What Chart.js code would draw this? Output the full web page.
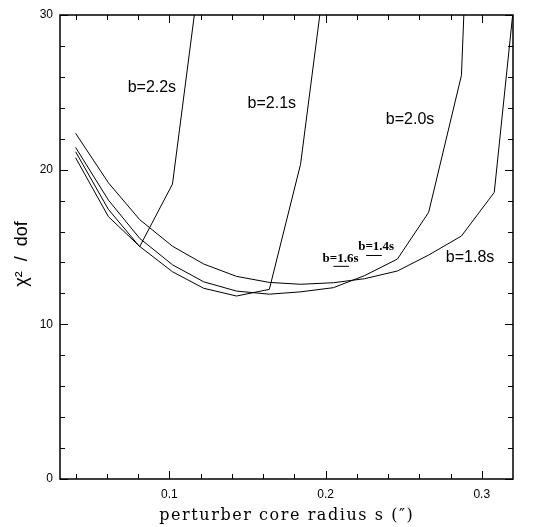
<!DOCTYPE html>
<html>
<head>
<meta charset="utf-8">
<script src="https://cdn.jsdelivr.net/npm/chart.js@4.4.0/dist/chart.umd.min.js"></script>
<style>
  html, body { margin: 0; padding: 0; background: #fff; }
  #chart { display: block; }
</style>
</head>
<body>
<canvas id="chart" width="535" height="527"></canvas>
<script>
// core radius s (") at which the fits were done
var sVals = [0.040, 0.061, 0.081, 0.102, 0.122, 0.143, 0.164, 0.184, 0.205, 0.225, 0.246, 0.266, 0.287, 0.308, 0.328];

// chi^2 / dof for each impact parameter b (points above 30 run off the top)
var chi18 = [22.35, 19.15, 16.77, 15.05, 13.9, 13.1, 12.71, 12.59, 12.69, 12.95, 13.45, 14.48, 15.71, 18.53, 38.0];
var chi20 = [21.44, 18.03, 15.56, 13.85, 12.75, 12.15, 11.95, 12.1, 12.37, 13.15, 14.22, 17.24, 26.1, 80.0];
var chi21 = [20.77, 16.96, 15.04, 13.4, 12.33, 11.83, 12.26, 20.35, 36.8];
var chi22 = [21.16, 17.43, 15.02, 19.07, 34.7];

// the two short marks for b=1.6s and b=1.4s
var mark16S = [0.205, 0.215];
var mark16Chi = [13.75, 13.75];
var mark14S = [0.226, 0.236];
var mark14Chi = [14.45, 14.45];

// axis ticks
var xTickVals = [0.1, 0.2, 0.3];
var xMinorVals = [0.04, 0.06, 0.08, 0.12, 0.14, 0.16, 0.18, 0.22, 0.24, 0.26, 0.28];
var yTickVals = [0, 10, 20, 30];
var yMinorVals = [2, 4, 6, 8, 12, 14, 16, 18, 22, 24, 26, 28];

// curve labels, anchored at (s, chi) = left end of the text baseline
var curveLabels = ['b=2.2s', 'b=2.1s', 'b=2.0s', 'b=1.8s', 'b=1.6s', 'b=1.4s'];
var labelS = [0.0733, 0.1501, 0.2386, 0.2770, 0.1981, 0.2209];
var labelChi = [25.0, 23.96, 22.95, 14.0, 14.05, 14.8];

function pts(xs, ys)
{
    var out = [];
    for (var i = 0; i < ys.length; i++) {
        out.push({x: xs[i], y: ys[i]});
    }
    return out;
}

function serie(data)
{
    return {
        data: data,
        borderColor: '#000',
        borderWidth: 1,
        pointRadius: 0,
        fill: false,
        tension: 0
    };
}

var framePlugin = {
    id: 'frame',
    afterDraw: function(chart)
    {
        var ctx = chart.ctx;
        var a = chart.chartArea;
        var xs = chart.scales.x;
        var ys = chart.scales.y;
        ctx.save();

        // box
        ctx.strokeStyle = '#000';
        ctx.lineWidth = 1.5;
        ctx.strokeRect(a.left, a.top, a.right - a.left, a.bottom - a.top);

        // inward ticks on all four sides
        ctx.lineWidth = 1;
        function xTick(v, len)
        {
            var p = Math.round(xs.getPixelForValue(v)) + 0.5;
            ctx.beginPath();
            ctx.moveTo(p, a.bottom); ctx.lineTo(p, a.bottom - len);
            ctx.moveTo(p, a.top); ctx.lineTo(p, a.top + len);
            ctx.stroke();
        }
        function yTick(v, len)
        {
            var p = Math.round(ys.getPixelForValue(v)) + 0.5;
            ctx.beginPath();
            ctx.moveTo(a.left, p); ctx.lineTo(a.left + len, p);
            ctx.moveTo(a.right, p); ctx.lineTo(a.right - len, p);
            ctx.stroke();
        }
        xTickVals.forEach(function(v){ xTick(v, 8); });
        xMinorVals.forEach(function(v){ xTick(v, 5); });
        yTickVals.forEach(function(v){ yTick(v, 8); });
        yMinorVals.forEach(function(v){ yTick(v, 5); });

        // curve labels
        ctx.fillStyle = '#000';
        ctx.textAlign = 'left';
        ctx.textBaseline = 'alphabetic';
        for (var i = 0; i < curveLabels.length; i++) {
            if (i < 4) {
                ctx.font = '16px "Liberation Sans"';
            } else {
                ctx.font = 'bold 13px "Liberation Serif"';
            }
            ctx.fillText(curveLabels[i], xs.getPixelForValue(labelS[i]), ys.getPixelForValue(labelChi[i]));
        }

        // x title
        var xt = 'perturber core radius s (\u2033)';
        ctx.font = '16px "DejaVu Serif"';
        var w = ctx.measureText(xt).width;
        var sp = (255 - w) / xt.length;
        if (sp > 0) ctx.letterSpacing = sp + 'px';
        ctx.textAlign = 'center';
        ctx.textBaseline = 'middle';
        ctx.fillText(xt, 286 + sp / 2, 516);
        ctx.letterSpacing = '0px';

        // y title
        var yt = '\u03c7\u00b2  /  dof';
        ctx.font = '18px "Liberation Sans"';
        ctx.translate(22, 254);
        ctx.rotate(-Math.PI / 2);
        ctx.fillText(yt, 0, 0);
        ctx.restore();
    }
};

var ctx = document.getElementById('chart').getContext('2d');
var chart = new Chart(ctx, {
    type: 'line',
    data: {
        datasets: [
            serie(pts(sVals, chi18)),
            serie(pts(sVals, chi20)),
            serie(pts(sVals, chi21)),
            serie(pts(sVals, chi22)),
            serie(pts(mark16S, mark16Chi)),
            serie(pts(mark14S, mark14Chi))
        ]
    },
    options: {
        responsive: false,
        animation: false,
        devicePixelRatio: 1,
        layout: {
            padding: {left: 0, top: 15, right: 22, bottom: 0}
        },
        plugins: {
            legend: {display: false},
            tooltip: {enabled: false}
        },
        scales: {
            x: {
                type: 'linear',
                min: 0.03,
                max: 0.32,
                grid: {display: false, drawTicks: false},
                border: {display: false},
                afterBuildTicks: function(scale) {
                    scale.ticks = xTickVals.map(function(v){ return {value: v}; });
                },
                afterFit: function(scale) { scale.height = 48; },
                ticks: {
                    padding: 8,
                    color: '#000',
                    maxRotation: 0,
                    font: {family: '"Liberation Sans"', size: 12},
                    callback: function(v) { return v.toFixed(1); }
                }
            },
            y: {
                min: 0,
                max: 30,
                grid: {display: false, drawTicks: false},
                border: {display: false},
                afterBuildTicks: function(scale) {
                    scale.ticks = yTickVals.map(function(v){ return {value: v}; });
                },
                afterFit: function(scale) { scale.width = 60; },
                ticks: {
                    padding: 7,
                    color: '#000',
                    font: {family: '"Liberation Sans"', size: 12},
                    callback: function(v) { return String(v); }
                }
            }
        }
    },
    plugins: [framePlugin]
});
</script>
</body>
</html>
